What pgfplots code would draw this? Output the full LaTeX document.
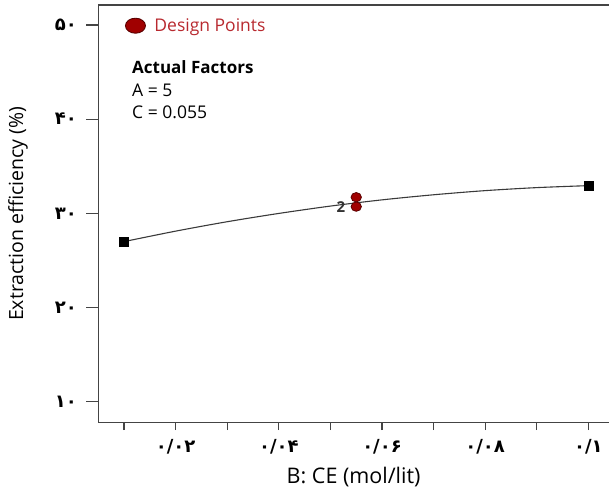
\documentclass[border=0pt]{standalone}
\usepackage{pgfplots}
\pgfplotsset{compat=1.18}
\usepackage{fontspec}
\setmainfont{Open Sans}
\newfontfamily\fafont[Script=Arabic]{DejaVu Sans}
\definecolor{dred}{HTML}{A00000}
\definecolor{dredline}{HTML}{5A0000}
\definecolor{tred}{HTML}{B8292F}
\definecolor{axgray}{HTML}{444444}
\definecolor{curvegray}{HTML}{3A3A3A}
\begin{document}
\begin{tikzpicture}
\useasboundingbox (-98.3pt,-65.5pt) rectangle (510.7pt,422.5pt);
\begin{axis}[
  scale only axis, width=510.7pt, height=417.5pt,
  xmin=0.005, xmax=0.104, ymin=7.79, ymax=52.12,
  axis x line=bottom, axis y line=left,
  axis line style={-, draw=axgray, line width=1.4pt},
  tick align=outside,
  major tick length=12pt,
  xtick style={draw=axgray, line width=1.2pt, /pgfplots/major tick length=7.5pt},
  ytick style={draw=axgray, line width=1.2pt},
  xtick={0.01,0.02,0.03,0.04,0.05,0.06,0.07,0.08,0.09,0.1},
  xticklabels={,{۰/۰۲},,{۰/۰۴},,{۰/۰۶},,{۰/۰۸},,{۰/۱}},
  ytick={10,20,30,40,50},
  yticklabels={{۱۰},{۲۰},{۳۰},{۴۰},{۵۰}},
  ticklabel style={font=\fafont\bfseries\fontsize{18}{20}\selectfont, text=black},
  yticklabel style={xshift=-6pt},
  xticklabel style={yshift=-1pt},
  xlabel={B: CE (mol/lit)},
  ylabel={Extraction efficiency (\%)},
  every axis x label/.style={at={(axis description cs:0.5,0)}, anchor=center, yshift=-54.5pt, font=\fontsize{21.5}{25}\selectfont},
  every axis y label/.style={at={(axis description cs:-0.1572,0.5)}, rotate=90, anchor=center, font=\fontsize{19.5}{23}\selectfont},
  legend style={draw=none, fill=none, at={(rel axis cs:0.0523,0.9504)}, anchor=west, inner sep=0pt, outer sep=0pt,
    font=\fontsize{17.5}{21}\selectfont, text=tred, column sep=0pt,
    nodes={inner sep=3pt}},
  legend cell align=left,
  clip=false,
]
% fitted curve
\addplot[curvegray, line width=1.1pt, smooth, forget plot] coordinates {
  (0.01,27.00) (0.02,28.11) (0.03,29.11) (0.04,29.99) (0.05,30.77)
  (0.06,31.43) (0.07,31.97) (0.08,32.41) (0.09,32.73) (0.1,32.94)};
% end squares
\addplot[only marks, mark=square*, mark size=4.5pt, mark options={fill=black, draw=black}, forget plot]
  coordinates {(0.01,27.00) (0.1,32.94)};
% design points
\addplot[only marks, mark=*, mark size=5.2pt, mark options={fill=dred, draw=dredline, line width=0.8pt, yscale=0.9},
  legend image code/.code={\draw[fill=dred, draw=dredline, line width=0.9pt] (10pt,0pt) ellipse (10pt and 7.5pt); \path[draw=none] (0pt,0pt) -- (26pt,0pt);}]
  coordinates {(0.055,31.71) (0.055,30.71)};
\addlegendentry{Design Points}
\node[anchor=center, font=\bfseries\fontsize{15}{17}\selectfont, text=black!80] at (axis cs:0.05205,30.71) {2};
\draw[axgray, line width=1.4pt] (rel axis cs:0,1) -- (rel axis cs:1.02,1);
\node[anchor=west, inner sep=0pt, font=\bfseries\fontsize{17}{20}\selectfont] at (rel axis cs:0.066,0.8522) {Actual Factors};
\node[anchor=west, inner sep=0pt, font=\fontsize{17.5}{20}\selectfont] at (rel axis cs:0.066,0.7964) {A = 5};
\node[anchor=west, inner sep=0pt, font=\fontsize{17.5}{20}\selectfont] at (rel axis cs:0.066,0.7420) {C = 0.055};
\end{axis}
\end{tikzpicture}
\end{document}
